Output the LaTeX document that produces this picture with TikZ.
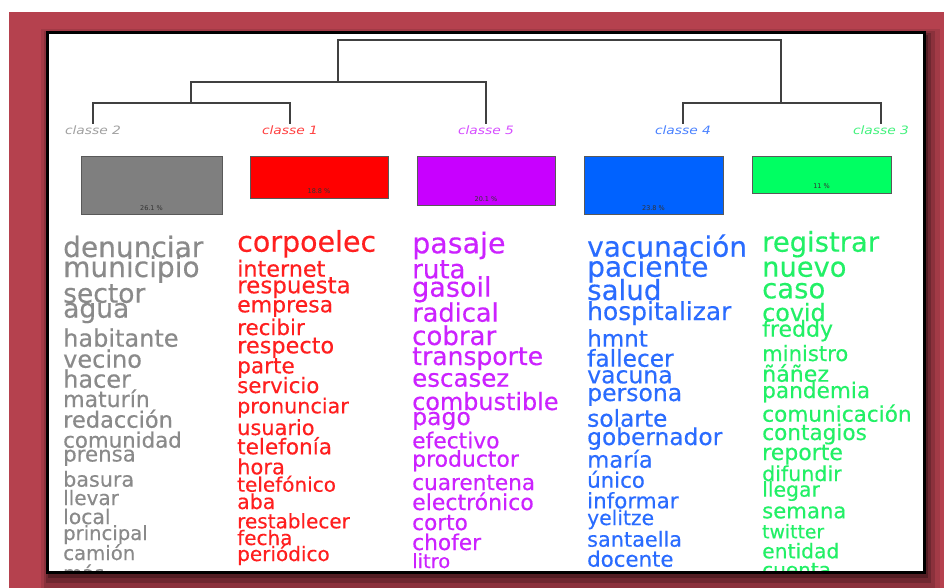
\documentclass[tikz,border=0pt]{standalone}
\usepackage{fontspec}
\setmainfont{DejaVu Sans}
\newfontfamily\wfont[FakeBold=0.35]{DejaVu Sans}
\usepackage{graphicx}
\newcommand\fsz[1]{\fontsize{#1}{#1}\selectfont}
\definecolor{bgred}{HTML}{B5414E}
\definecolor{cgray}{HTML}{8A8A8A}
\definecolor{cred}{HTML}{FF1F1F}
\definecolor{cpurple}{HTML}{CC22FF}
\definecolor{cblue}{HTML}{2A6CFF}
\definecolor{cgreen}{HTML}{22F066}
\definecolor{bgray}{HTML}{7F7F7F}
\definecolor{bred}{HTML}{FF0000}
\definecolor{bpurple}{HTML}{C800FF}
\definecolor{bblue}{HTML}{0062FF}
\definecolor{bgreen}{HTML}{00FF62}
\tikzset{
  word/.style={anchor=base west, inner sep=0pt},
  clslabel/.style={inner sep=1.5pt, font=\fsz{11.5}\itshape},
  clsbox/.style={draw=black!65, line width=0.8pt, anchor=north west, inner sep=0pt, minimum width=#1},
  pct/.style={inner sep=0pt, font=\fsz{6.5}, text=black!80},
  tree/.style={draw=black!75, line width=1.2pt}
}
\begin{document}
\begin{tikzpicture}[x=1pt,y=-1pt]
\useasboundingbox (0,0) rectangle (944,588);
% background
\fill[white] (0,0) rectangle (944,588);
\fill[bgred] (9,12) rectangle (944,588);
% shadow of frame
\fill[black, opacity=0.10] (41,29) rectangle (940,594);
\fill[black, opacity=0.14] (44,31) rectangle (935,589);
\fill[black, opacity=0.2] (46,33) rectangle (931,583);
\fill[black, opacity=0.25] (48,35) rectangle (928,578);
% frame
\draw[black, line width=3pt, fill=white] (47,33) rectangle (924,572);

% class labels
\node[clslabel, text=cgray!80] (l2) at (93,130) {\scalebox{1.2}[1]{classe 2}};
\node[clslabel, text=cred!85] (l1) at (290,130) {\scalebox{1.2}[1]{classe 1}};
\node[clslabel, text=cpurple!80] (l5) at (486,130) {\scalebox{1.2}[1]{classe 5}};
\node[clslabel, text=cblue!85] (l4) at (683,130) {\scalebox{1.2}[1]{classe 4}};
\node[clslabel, text=cgreen!85] (l3) at (881,130) {\scalebox{1.2}[1]{classe 3}};

% dendrogram
\coordinate (j21) at (191,103);
\coordinate (j215) at (338,82);
\coordinate (root) at (560,40);
\coordinate (j43) at (781,103);
\draw[tree] (l2.north) |- (j21) -| (l1.north);
\draw[tree] (j21) |- (j215) -| (l5.north);
\draw[tree] (j215) |- (root) -| (j43);
\draw[tree] (l4.north) |- (j43) -| (l3.north);

% boxes
\node[clsbox=141pt, fill=bgray, minimum height=58.6pt] (b2) at (81,155.7) {};
\node[clsbox=138pt, fill=bred, minimum height=42pt] (b1) at (250,155.7) {};
\node[clsbox=138pt, fill=bpurple, minimum height=49.3pt] (b5) at (417,155.7) {};
\node[clsbox=139pt, fill=bblue, minimum height=58.3pt] (b4) at (584,155.7) {};
\node[clsbox=139pt, fill=bgreen, minimum height=37pt] (b3) at (752,155.7) {};
\node[pct] (p2) at (151.5,208.5) {26.1 \%};
\node[pct] (p1) at (319,191.5) {18.8 \%};
\node[pct] (p5) at (486,199) {20.1 \%};
\node[pct] (p4) at (653.5,208) {23.8 \%};
\node[pct] (p3) at (821.5,186.5) {11 \%};

\begin{scope}[every node/.append style={}]
\clip (49,35) rectangle (922.5,570.5);
% classe 2 (gray)
\begin{scope}[every node/.append style={text=cgray}]
\node[word, font=\wfont\fsz{28}] (g1) at (63,257) {denunciar};
\node[word, font=\wfont\fsz{28}] (g2) at (63,277) {municipio};
\node[word, font=\wfont\fsz{26.5}] (g3) at (63,302.7) {sector};
\node[word, font=\wfont\fsz{26.5}] (g4) at (63,317.7) {agua};
\node[word, font=\wfont\fsz{24}] (g5) at (63,346.7) {habitante};
\node[word, font=\wfont\fsz{24}] (g6) at (63,367.7) {vecino};
\node[word, font=\wfont\fsz{24}] (g7) at (63,387.7) {hacer};
\node[word, font=\wfont\fsz{22}] (g8) at (63,407) {maturín};
\node[word, font=\wfont\fsz{22.5}] (g9) at (63,427.7) {redacción};
\node[word, font=\wfont\fsz{21.3}] (g10) at (63,447.7) {comunidad};
\node[word, font=\wfont\fsz{21.3}] (g11) at (63,461.5) {prensa};
\node[word, font=\wfont\fsz{20.7}] (g12) at (63,486.7) {basura};
\node[word, font=\wfont\fsz{20}] (g13) at (63,505) {llevar};
\node[word, font=\wfont\fsz{20.3}] (g14) at (63,524) {local};
\node[word, font=\wfont\fsz{19.6}] (g15) at (63,540) {principal};
\node[word, font=\wfont\fsz{19.7}] (g16) at (63,560) {camión};
\node[word, font=\wfont\fsz{19.5}] (g17) at (63,580) {más};
\end{scope}
% classe 1 (red)
\begin{scope}[every node/.append style={text=cred}]
\node[word, font=\wfont\fsz{28.5}] (r1) at (237,251.7) {corpoelec};
\node[word, font=\wfont\fsz{22.3}] (r2) at (237,276.7) {internet};
\node[word, font=\wfont\fsz{23}] (r3) at (237,293.3) {respuesta};
\node[word, font=\wfont\fsz{22}] (r4) at (237,312.3) {empresa};
\node[word, font=\wfont\fsz{21.4}] (r5) at (237,335) {recibir};
\node[word, font=\wfont\fsz{22.4}] (r6) at (237,353.3) {respecto};
\node[word, font=\wfont\fsz{21.6}] (r7) at (237,373.3) {parte};
\node[word, font=\wfont\fsz{21.3}] (r8) at (237,393) {servicio};
\node[word, font=\wfont\fsz{20.7}] (r9) at (237,413.3) {pronunciar};
\node[word, font=\wfont\fsz{20.9}] (r10) at (237,435) {usuario};
\node[word, font=\wfont\fsz{21.6}] (r11) at (237,454.3) {telefonía};
\node[word, font=\wfont\fsz{21}] (r12) at (237,474.3) {hora};
\node[word, font=\wfont\fsz{20}] (r13) at (237,491.7) {telefónico};
\node[word, font=\wfont\fsz{20.5}] (r14) at (237,509) {aba};
\node[word, font=\wfont\fsz{20}] (r15) at (237,528.3) {restablecer};
\node[word, font=\wfont\fsz{20}] (r16) at (237,545) {fecha};
\node[word, font=\wfont\fsz{20}] (r17) at (237,561) {periódico};
\end{scope}
% classe 5 (purple)
\begin{scope}[every node/.append style={text=cpurple}]
\node[word, font=\wfont\fsz{28.5}] (v1) at (412,253.3) {pasaje};
\node[word, font=\wfont\fsz{26}] (v2) at (412,278.3) {ruta};
\node[word, font=\wfont\fsz{27}] (v3) at (412,296.7) {gasoil};
\node[word, font=\wfont\fsz{25.6}] (v4) at (412,321.7) {radical};
\node[word, font=\wfont\fsz{26}] (v5) at (412,345) {cobrar};
\node[word, font=\wfont\fsz{25}] (v6) at (412,365) {transporte};
\node[word, font=\wfont\fsz{24.5}] (v7) at (412,386.7) {escasez};
\node[word, font=\wfont\fsz{23.9}] (v8) at (412,410) {combustible};
\node[word, font=\wfont\fsz{23.5}] (v9) at (412,425) {pago};
\node[word, font=\wfont\fsz{21.8}] (v10) at (412,448.3) {efectivo};
\node[word, font=\wfont\fsz{21.9}] (v11) at (412,466.7) {productor};
\node[word, font=\wfont\fsz{21.6}] (v12) at (412,490) {cuarentena};
\node[word, font=\wfont\fsz{22}] (v13) at (412,510) {electrónico};
\node[word, font=\wfont\fsz{21.6}] (v14) at (412,530) {corto};
\node[word, font=\wfont\fsz{21.7}] (v15) at (412,550) {chofer};
\node[word, font=\wfont\fsz{19.5}] (v16) at (412,568) {litro};
\end{scope}
% classe 4 (blue)
\begin{scope}[every node/.append style={text=cblue}]
\node[word, font=\wfont\fsz{28}] (u1) at (587,256.7) {vacunación};
\node[word, font=\wfont\fsz{28}] (u2) at (587,276.7) {paciente};
\node[word, font=\wfont\fsz{27.7}] (u3) at (587,300) {salud};
\node[word, font=\wfont\fsz{24.9}] (u4) at (587,320) {hospitalizar};
\node[word, font=\wfont\fsz{23}] (u5) at (587,346.7) {hmnt};
\node[word, font=\wfont\fsz{23.3}] (u6) at (587,366.7) {fallecer};
\node[word, font=\wfont\fsz{23.5}] (u7) at (587,383.3) {vacuna};
\node[word, font=\wfont\fsz{23.5}] (u8) at (587,401) {persona};
\node[word, font=\wfont\fsz{23.3}] (u9) at (587,426.7) {solarte};
\node[word, font=\wfont\fsz{23.3}] (u10) at (587,445) {gobernador};
\node[word, font=\wfont\fsz{22.7}] (u11) at (587,467.7) {maría};
\node[word, font=\wfont\fsz{21.3}] (u12) at (587,487.7) {único};
\node[word, font=\wfont\fsz{21.4}] (u13) at (587,508.3) {informar};
\node[word, font=\wfont\fsz{20.3}] (u14) at (587,525) {yelitze};
\node[word, font=\wfont\fsz{20.8}] (u15) at (587,546.7) {santaella};
\node[word, font=\wfont\fsz{21.3}] (u16) at (587,566.7) {docente};
\end{scope}
% classe 3 (green)
\begin{scope}[every node/.append style={text=cgreen}]
\node[word, font=\wfont\fsz{27.4}] (n1) at (762,251.7) {registrar};
\node[word, font=\wfont\fsz{27.3}] (n2) at (762,276.7) {nuevo};
\node[word, font=\wfont\fsz{27.5}] (n3) at (762,298.3) {caso};
\node[word, font=\wfont\fsz{23.8}] (n4) at (762,321) {covid};
\node[word, font=\wfont\fsz{22}] (n5) at (762,336.7) {freddy};
\node[word, font=\wfont\fsz{21.1}] (n6) at (762,361) {ministro};
\node[word, font=\wfont\fsz{22.1}] (n7) at (762,381.7) {ñáñez};
\node[word, font=\wfont\fsz{21.6}] (n8) at (762,398) {pandemia};
\node[word, font=\wfont\fsz{21.6}] (n9) at (762,421.7) {comunicación};
\node[word, font=\wfont\fsz{21.6}] (n10) at (762,440) {contagios};
\node[word, font=\wfont\fsz{22}] (n11) at (762,460) {reporte};
\node[word, font=\wfont\fsz{20.6}] (n12) at (762,481) {difundir};
\node[word, font=\wfont\fsz{20.4}] (n13) at (762,496.7) {llegar};
\node[word, font=\wfont\fsz{21.2}] (n14) at (762,518.3) {semana};
\node[word, font=\wfont\fsz{18.8}] (n15) at (762,538.3) {twitter};
\node[word, font=\wfont\fsz{20.3}] (n16) at (762,558.3) {entidad};
\node[word, font=\wfont\fsz{20}] (n17) at (762,577) {cuenta};
\end{scope}
\end{scope}
\end{tikzpicture}
\end{document}
